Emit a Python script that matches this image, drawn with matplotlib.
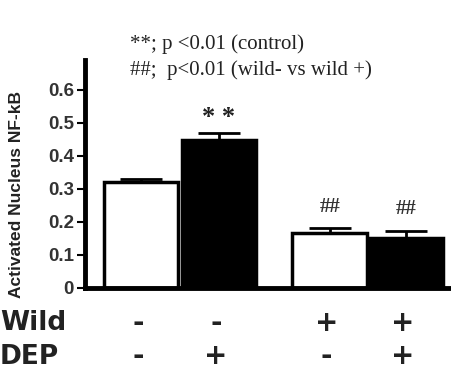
import numpy as np
import matplotlib
matplotlib.use('Agg')
import matplotlib.pyplot as plt

# Данные
groups = ['wild-/DEP-', 'wild-/DEP+', 'wild+/DEP-', 'wild+/DEP+']
values = [0.322, 0.447, 0.167, 0.152]
errors = [0.007, 0.022, 0.013, 0.021]
colors = ['white', 'black', 'white', 'black']
wild_signs = ['-', '-', '+', '+']
dep_signs = ['-', '+', '-', '+']
marks = ['', '* *', '##', '##']
yticks = [0, 0.1, 0.2, 0.3, 0.4, 0.5, 0.6]
ytick_labels = ['0', '0.1', '0.2', '0.3', '0.4', '0.5', '0.6']
positions = [0, 1.0, 2.42, 3.4]

sans = 'Liberation Sans'
ink = '#222222'

fig = plt.figure(figsize=(4.52, 3.71), dpi=100)
ax = fig.add_axes([0.188, 0.224, 0.812, 0.614])

ax.bar(positions, values, width=0.96, color=colors, edgecolor='black',
       linewidth=2.5, zorder=2)
ax.errorbar(positions, values, yerr=[np.zeros(len(errors)), errors], fmt='none',
            ecolor='black', elinewidth=2, capsize=15, capthick=2, zorder=3)

for x, v, e, m in zip(positions, values, errors, marks):
    if m.startswith('*'):
        ax.text(x, v + e + 0.012, m, ha='center', va='bottom', fontsize=19,
                family='Liberation Serif', fontweight='bold', color=ink)
    elif m:
        ax.text(x, v + e + 0.035, m, ha='center', va='bottom', fontsize=15,
                family='Liberation Serif', fontweight='bold', color='#333333')

ax.set_xlim(-0.72, 3.99)
ax.set_ylim(0, 0.69)
ax.set_yticks(yticks)
ax.set_yticklabels(ytick_labels, fontsize=13.5, fontweight='bold', color='#333333',
                   family=sans)
ax.set_xticks([])
ax.tick_params(axis='y', direction='out', length=6, width=1.5, pad=2)

for s in ['top', 'right']:
    ax.spines[s].set_visible(False)
for s in ['left', 'bottom']:
    ax.spines[s].set_linewidth(3.5)

ax.set_ylabel('Activated Nucleus NF-kB', fontsize=12.5, fontweight='bold',
              family=sans, color=ink)
ax.yaxis.set_label_coords(-0.165, 0.41)

# Легенда p-значений
fig.text(0.288, 0.881, '**; p <0.01 (control)', fontsize=15,
         family='Liberation Serif', va='center', color=ink)
fig.text(0.288, 0.811, '##;  p<0.01 (wild- vs wild +)', fontsize=15,
         family='Liberation Serif', va='center', color=ink)

# Подписи групп
trans = ax.get_xaxis_transform()
fig.text(0.0, 0.129, 'Wild', fontsize=19, fontweight='heavy', va='center',
         color=ink)
fig.text(0.0, 0.038, 'DEP', fontsize=19, fontweight='heavy', va='center',
         color=ink)
for x, w, d in zip(positions, wild_signs, dep_signs):
    ax.text(x - 0.04, -0.155, w, transform=trans, ha='center', va='center',
            fontsize=20, fontweight='heavy', color=ink)
    ax.text(x - 0.04, -0.30, d, transform=trans, ha='center', va='center',
            fontsize=20, fontweight='heavy', color=ink)

fig.savefig('out.png', dpi=100)
